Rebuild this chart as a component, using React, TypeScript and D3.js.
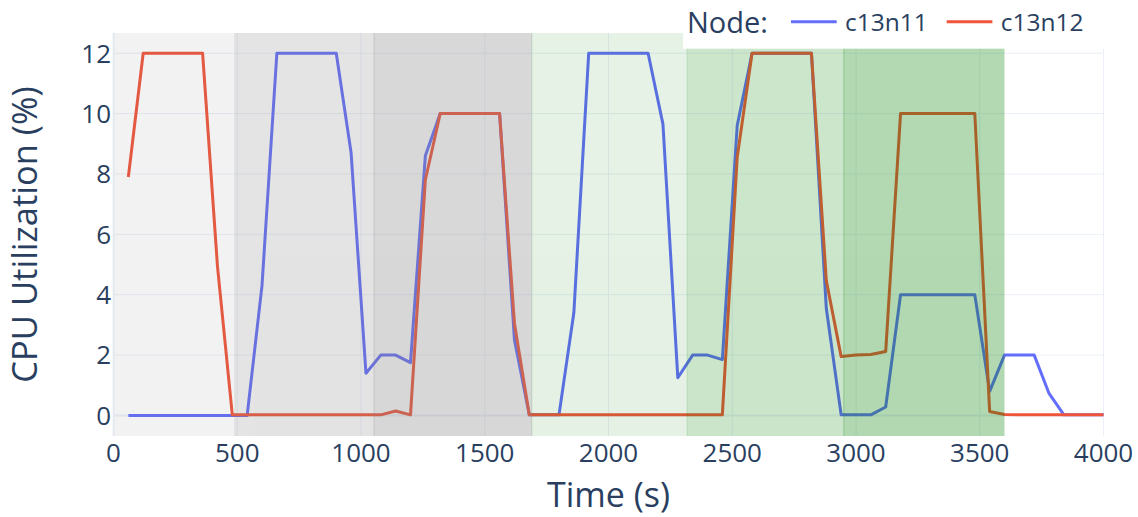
import React from "react";
import * as d3 from "d3";

const times = [60,120,180,240,300,360,420,480,540,600,660,720,780,840,900,960,1020,1080,1140,1200,1260,1320,1380,1440,1500,1560,1620,1680,1740,1800,1860,1920,1980,2040,2100,2160,2220,2280,2340,2400,2460,2520,2580,2640,2700,2760,2820,2880,2940,3000,3060,3120,3180,3240,3300,3360,3420,3480,3540,3600,3660,3720,3780,3840,3900,3960,4020];

const c13n11 = [0,0,0,0,0,0,0,0,0,4.3,12,12,12,12,12,8.7,1.4,2.0,2.0,1.75,8.6,10,10,10,10,10,2.5,0.02,0.02,0.02,3.4,12,12,12,12,12,9.65,1.25,2.0,2.0,1.85,9.6,12,12,12,12,12,3.55,0.02,0.02,0.02,0.28,4.0,4.0,4.0,4.0,4.0,4.0,0.8,2.0,2.0,2.0,0.73,0.02,0.02,0.02,0.02];

const c13n12 = [7.9,12,12,12,12,12,4.95,0.02,0.02,0.02,0.02,0.02,0.02,0.02,0.02,0.02,0.02,0.02,0.15,0.02,7.8,10,10,10,10,10,3.05,0.02,0.02,0.02,0.02,0.02,0.02,0.02,0.02,0.02,0.02,0.02,0.02,0.02,0.02,8.55,12,12,12,12,12,4.47,1.95,2.0,2.02,2.12,10,10,10,10,10,10,0.13,0.03,0.02,0.02,0.02,0.02,0.02,0.02,0.02];

const seriesNames = ["c13n11", "c13n12"];
const seriesColors = ["#636efa", "#EF553B"];

const phaseStarts = [0, 491, 1053, 1690, 2318, 2951];
const phaseEnds = [491, 1053, 1690, 2318, 2951, 3598];
const phaseColors = ["#808080", "#808080", "#808080", "#008000", "#008000", "#008000"];
const phaseOpacity = [0.1, 0.21, 0.31, 0.1, 0.2, 0.3];

const xTicks = [0, 500, 1000, 1500, 2000, 2500, 3000, 3500, 4000];
const yTicks = [0, 2, 4, 6, 8, 10, 12];

const FONT = "'Open Sans', verdana, arial, sans-serif";
const TXT = "#2a3f5f";
const GRID = "#EBF0F8";

export default function App() {
  const L = 113.5, R = 1103.5, T = 33, B = 436;
  const x = d3.scaleLinear().domain([0, 4000]).range([L, R]);
  const y = d3.scaleLinear().domain([-0.68, 12.67]).range([B, T]);

  const series = [c13n11, c13n12];
  const line = d3
    .line<number>()
    .x((_, i) => x(times[i]))
    .y((d) => y(d));

  return (
    <svg
      width={1138}
      height={517}
      style={{ position: "absolute", left: 0, top: 0, background: "#fff" }}
      fontFamily={FONT}
    >
      <defs>
        <clipPath id="plotclip">
          <rect x={L} y={T} width={R - L} height={B - T} />
        </clipPath>
      </defs>
      <rect x={0} y={0} width={1138} height={517} fill="#fff" />
      {xTicks.map((t) => (
        <line key={"gx" + t} x1={x(t)} x2={x(t)} y1={T} y2={B} stroke={GRID} strokeWidth={t === 0 ? 2 : 1} />
      ))}
      {yTicks.map((t) => (
        <line key={"gy" + t} x1={L} x2={R} y1={y(t)} y2={y(t)} stroke={GRID} strokeWidth={t === 0 ? 2 : 1} />
      ))}
      <g clipPath="url(#plotclip)">
        {series.map((s, i) => (
          <path
            key={seriesNames[i]}
            d={line(s) || ""}
            fill="none"
            stroke={seriesColors[i]}
            strokeWidth={3}
            strokeLinejoin="round"
          />
        ))}
      </g>
      <g clipPath="url(#plotclip)">
        {phaseStarts.map((s, i) => (
          <rect
            key={"ph" + i}
            x={x(s)}
            y={T}
            width={x(phaseEnds[i]) - x(s)}
            height={B - T}
            fill={phaseColors[i]}
            stroke={phaseColors[i]}
            strokeWidth={1}
            opacity={phaseOpacity[i]}
          />
        ))}
      </g>
      {xTicks.map((t) => (
        <text key={"tx" + t} x={x(t)} y={462} textAnchor="middle" fontSize={26} fill={TXT}>
          {t}
        </text>
      ))}
      {yTicks.map((t) => (
        <text key={"ty" + t} x={111} y={y(t)} dy="0.36em" textAnchor="end" fontSize={26} fill={TXT}>
          {t}
        </text>
      ))}
      <text x={(L + R) / 2} y={507} textAnchor="middle" fontSize={34} fill={TXT}>
        Time (s)
      </text>
      <text
        x={37}
        y={(T + B) / 2}
        textAnchor="middle"
        fontSize={34.5}
        fill={TXT}
        transform={`rotate(-90, 37, ${(T + B) / 2})`}
      >
        CPU Utilization (%)
      </text>
      <rect x={683} y={0} width={422} height={48.7} fill="#fff" />
      <text x={687} y={33} fontSize={29} fill={TXT}>
        Node:
      </text>
      {seriesNames.map((n, i) => {
        const x0 = [791, 946.7][i];
        return (
          <g key={"lg" + n}>
            <line x1={x0} x2={x0 + 45.7} y1={21.7} y2={21.7} stroke={seriesColors[i]} strokeWidth={3} />
            <text x={x0 + 54} y={31} fontSize={24.5} fill={TXT}>
              {n}
            </text>
          </g>
        );
      })}
    </svg>
  );
}
